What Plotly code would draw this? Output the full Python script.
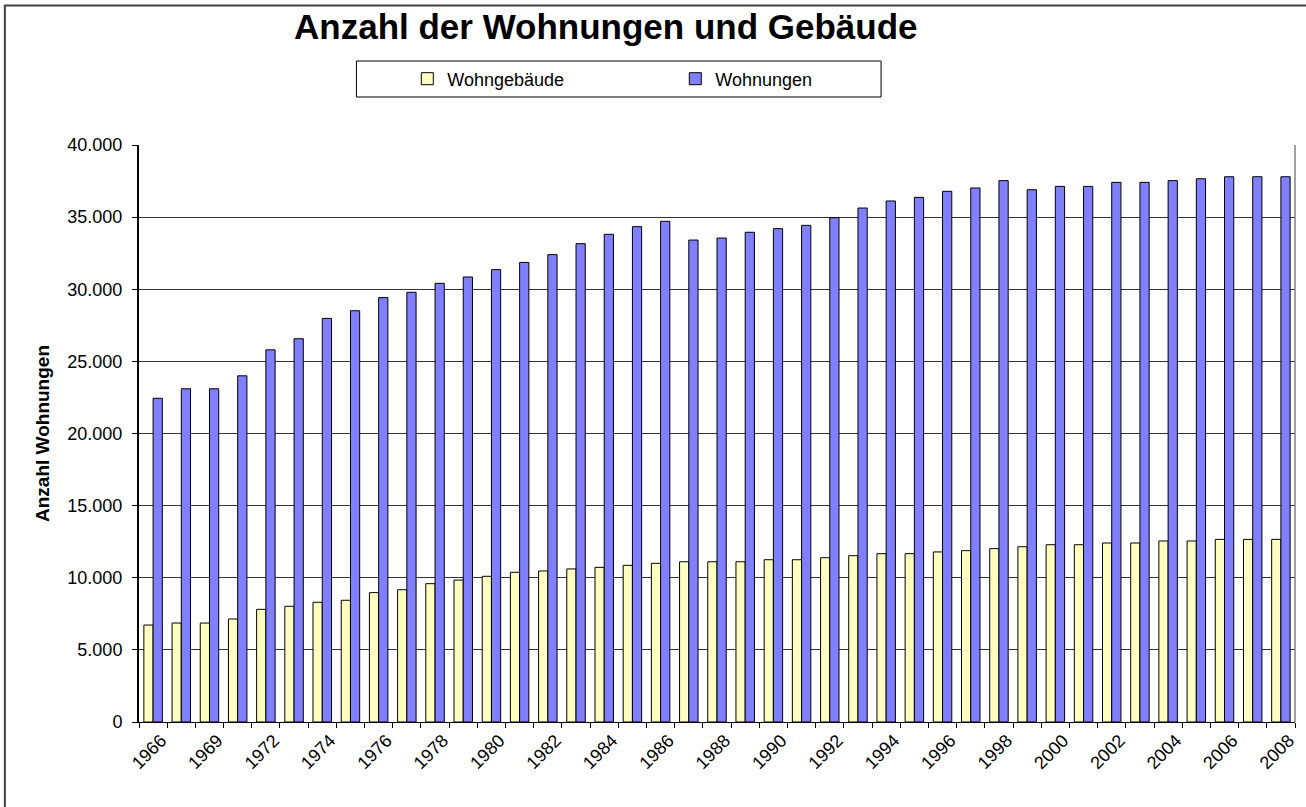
import plotly.graph_objects as go

years = ["1966", "1968", "1969", "1970"] + [str(y) for y in range(1972, 2009)]

wohngebaeude = [6720, 6860, 6860, 7140, 7810, 8020, 8300, 8440, 8970, 9170,
                9590, 9840, 10100, 10380, 10470, 10610, 10720, 10860, 11000, 11110,
                11110, 11110, 11250, 11250, 11390, 11530, 11670, 11670, 11790, 11880,
                12020, 12150, 12290, 12290, 12410, 12410, 12550, 12550, 12660, 12660,
                12660]

wohnungen = [22440, 23100, 23100, 24000, 25800, 26570, 27980, 28510, 29420, 29790,
             30410, 30850, 31360, 31860, 32400, 33160, 33810, 34340, 34710, 33410,
             33550, 33950, 34200, 34430, 34960, 35630, 36120, 36370, 36790, 37020,
             37530, 36900, 37130, 37130, 37410, 37410, 37530, 37660, 37800, 37800,
             37800]

tick_labels = [y if i % 2 == 0 else "" for i, y in enumerate(years)]

W, H = 1306, 807
L, R, T, B = 139, 8, 145, 85
PW, PH = W - L - R, H - T - B


def px_x(x):
    return (x - L) / PW


def px_y(y):
    return 1 - (y - T) / PH


FONT = "Liberation Sans, Arial, sans-serif"

fig = go.Figure()
fig.add_trace(go.Bar(
    name="Wohngebäude", x=years, y=wohngebaeude,
    marker=dict(color="#FFFFC0", line=dict(color="#000000", width=1)),
))
fig.add_trace(go.Bar(
    name="Wohnungen", x=years, y=wohnungen,
    marker=dict(color="#8080FF", line=dict(color="#000000", width=1)),
))

fig.update_layout(
    width=W, height=H,
    margin=dict(l=L, r=R, t=T, b=B),
    paper_bgcolor="white", plot_bgcolor="white",
    separators=",.",
    barmode="group", bargap=0.345, bargroupgap=0,
    font=dict(family=FONT, color="#000000"),
    title=dict(
        text="Anzahl der Wohnungen und Gebäude",
        font=dict(family=FONT, size=35, weight="bold", color="#000000"),
        x=px_x(607), xref="paper", xanchor="center",
        y=1 - 27 / H, yref="container", yanchor="middle",
    ),
    legend=dict(
        orientation="h",
        x=px_x(408), xanchor="left",
        y=px_y(79), yanchor="middle",
        bgcolor="rgba(0,0,0,0)", borderwidth=0,
        entrywidth=223, entrywidthmode="pixels",
        font=dict(family=FONT, size=18),
        traceorder="normal",
    ),
    xaxis=dict(
        type="category",
        tickmode="array", tickvals=years, ticktext=tick_labels,
        tickson="boundaries", ticks="outside", ticklen=5,
        tickcolor="#000000", tickwidth=1,
        tickangle=-45, ticklabelshift=8,
        tickfont=dict(family=FONT, size=18),
        showline=True, linecolor="#000000", linewidth=1,
        showgrid=False, zeroline=False,
    ),
    yaxis=dict(
        range=[0, 40000], tickmode="linear", tick0=0, dtick=5000,
        tickformat=",d",
        ticks="outside", ticklen=5, tickcolor="#000000", tickwidth=1,
        ticklabelstandoff=6,
        tickfont=dict(family=FONT, size=18),
        showline=True, linecolor="#000000", linewidth=2,
        showgrid=True, gridcolor="#333333", gridwidth=1.3,
        zeroline=False,
        title=dict(text="Anzahl Wohnungen",
                   font=dict(family=FONT, size=19, weight="bold"),
                   standoff=13),
    ),
)

# plot area right border (grey)
fig.add_shape(type="line", xref="paper", yref="paper",
              x0=1, x1=1, y0=0, y1=1,
              line=dict(color="#808080", width=1.5), layer="above")

# legend box
fig.add_shape(type="rect", xref="paper", yref="paper",
              x0=px_x(357), x1=px_x(883), y0=px_y(61), y1=px_y(97),
              line=dict(color="#000000", width=1), fillcolor="white", layer="below")

# outer chart frame (extends beyond the visible right/bottom edge)
fig.add_shape(type="rect", xref="paper", yref="paper",
              x0=px_x(4.5), x1=px_x(1320), y0=px_y(5.5), y1=px_y(820),
              line=dict(color="#404040", width=2), fillcolor="rgba(0,0,0,0)", layer="below")

fig.write_html(
    "out.html",
    config={"displayModeBar": False},
    post_script="document.body.style.margin='0';document.body.style.overflow='hidden';",
)
